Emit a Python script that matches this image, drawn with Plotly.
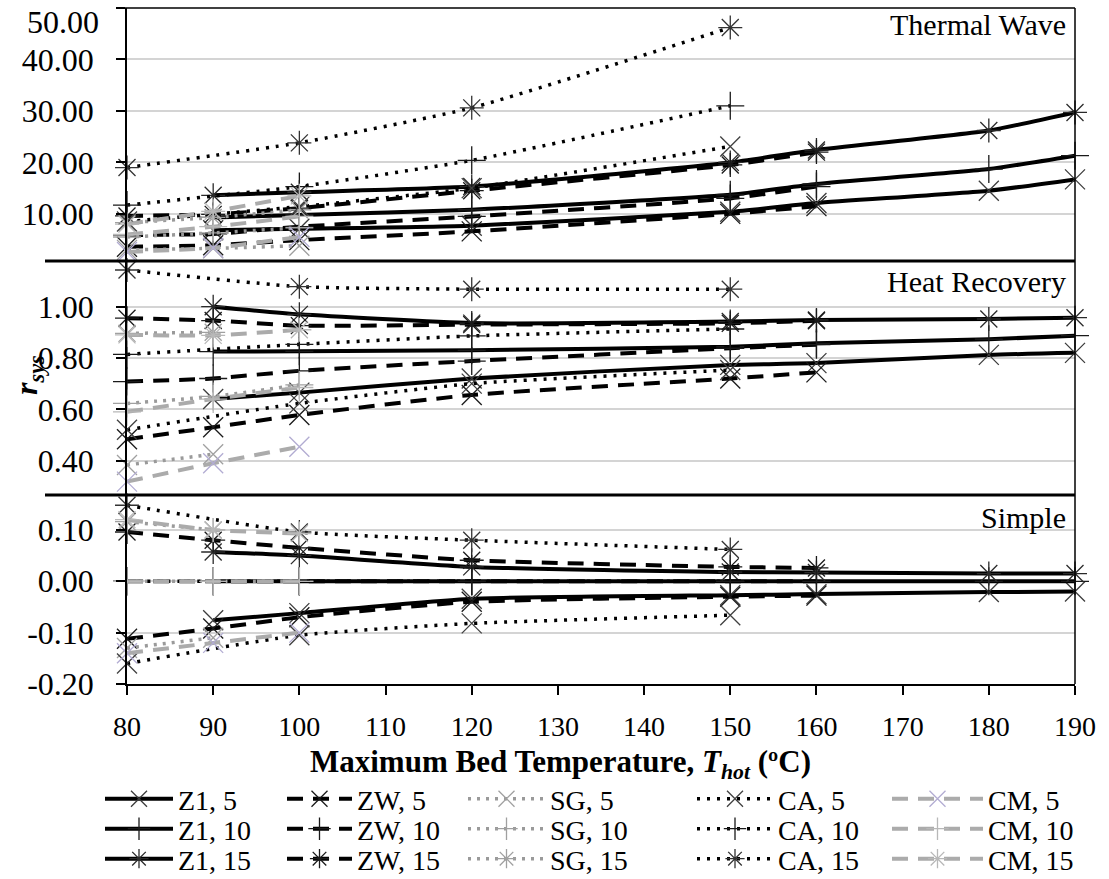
import plotly.graph_objects as go

# ---------------- data ----------------
Z1_x = [90, 100, 120, 150, 160, 180, 190]
ZW_x = [80, 90, 100, 120, 150, 160]
SG_x = [80, 90, 100]
CA_x = [80, 100, 120, 150]
CM_x = [80, 90, 100]

# Thermal Wave panel
Z1_5_tw = [6.8, 7.1, 7.7, 10.4, 12.1, 14.5, 16.7]
Z1_10_tw = [9.3, 9.8, 10.8, 13.7, 15.8, 18.7, 21.3]
Z1_15_tw = [13.6, 14.2, 15.3, 20.0, 22.4, 26.2, 29.7]
ZW_5_tw = [3.6, 3.9, 4.9, 6.6, 10.0, 11.5]
ZW_10_tw = [5.9, 6.1, 7.5, 9.5, 13.0, 15.3]
ZW_15_tw = [9.6, 9.9, 11.1, 14.5, 19.5, 22.0]
SG_5_tw = [3.0, 3.3, 3.8]
SG_10_tw = [5.5, 6.3, 7.3]
SG_15_tw = [8.3, 9.3, 10.8]
CA_5_tw = [8.5, 11.4, 15.0, 23.1]
CA_10_tw = [11.7, 15.3, 20.4, 31.0]
CA_15_tw = [19.0, 23.8, 30.6, 46.2]
CM_5_tw = [2.6, 3.4, 5.5]
CM_10_tw = [6.0, 7.5, 9.5]
CM_15_tw = [8.0, 10.5, 13.5]

# Heat Recovery panel
Z1_5_hr = [0.64, 0.665, 0.72, 0.773, 0.78, 0.812, 0.82]
Z1_10_hr = [0.825, 0.826, 0.83, 0.844, 0.857, 0.873, 0.887]
Z1_15_hr = [1.00, 0.97, 0.936, 0.942, 0.948, 0.952, 0.957]
ZW_5_hr = [0.483, 0.53, 0.578, 0.656, 0.72, 0.744]
ZW_10_hr = [0.708, 0.72, 0.75, 0.788, 0.838, 0.852]
ZW_15_hr = [0.955, 0.946, 0.926, 0.93, 0.935, 0.945]
SG_5_hr = [0.383, 0.425, None]
SG_10_hr = [0.623, 0.65, 0.695]
SG_15_hr = [0.896, 0.90, None]
CA_5_hr = [0.52, 0.623, 0.70, 0.753]
CA_10_hr = [0.814, 0.853, 0.886, 0.913]
CA_15_hr = [1.143, 1.078, 1.068, 1.068]
CM_5_hr = [0.318, 0.39, 0.454]
CM_10_hr = [0.59, 0.64, 0.685]
CM_15_hr = [0.89, 0.888, 0.91]

# Simple panel
Z1_5_s = [-0.076, -0.062, -0.034, -0.027, -0.025, -0.021, -0.02]
Z1_10_s = [0, 0, 0, 0, 0, 0, 0]
Z1_15_s = [0.057, 0.05, 0.028, 0.018, 0.017, 0.015, 0.015]
ZW_5_s = [-0.112, -0.092, -0.07, -0.04, -0.03, -0.028]
ZW_10_s = [0, 0, 0, 0, 0, 0]
ZW_15_s = [0.096, 0.08, 0.065, 0.041, 0.028, 0.026]
SG_5_s = [-0.13, -0.11, None]
SG_10_s = [0, 0, 0]
SG_15_s = [0.116, 0.10, None]
CA_5_s = [-0.16, -0.105, -0.082, -0.066]
CA_10_s = [0, 0, 0, 0]
CA_15_s = [0.148, 0.096, 0.08, 0.062]
CM_5_s = [-0.14, -0.12, -0.10]
CM_10_s = [0, 0, 0]
CM_15_s = [0.12, 0.10, 0.093]

x_ticks = [80, 90, 100, 110, 120, 130, 140, 150, 160, 170, 180, 190]
top_tickvals = [10, 20, 30, 40, 50]
top_ticktext = ["10.00", "20.00", "30.00", "40.00", ""]
top_label_max = "50.00"
mid_tickvals = [0.4, 0.6, 0.8, 1.0]
mid_ticktext = ["0.40", "0.60", "0.80", "1.00"]
bot_tickvals = [-0.2, -0.1, 0.0, 0.1]
bot_ticktext = ["-0.20", "-0.10", "0.00", "0.10"]

panel_names = ["Thermal Wave", "Heat Recovery", "Simple"]
materials = ["Z1", "ZW", "SG", "CA", "CM"]
levels = ["5", "10", "15"]

# --------------- assemble ----------------
xs = {"Z1": Z1_x, "ZW": ZW_x, "SG": SG_x, "CA": CA_x, "CM": CM_x}
panels = {
    "y3": {"Z1": [Z1_5_tw, Z1_10_tw, Z1_15_tw], "ZW": [ZW_5_tw, ZW_10_tw, ZW_15_tw],
           "SG": [SG_5_tw, SG_10_tw, SG_15_tw], "CA": [CA_5_tw, CA_10_tw, CA_15_tw],
           "CM": [CM_5_tw, CM_10_tw, CM_15_tw]},
    "y2": {"Z1": [Z1_5_hr, Z1_10_hr, Z1_15_hr], "ZW": [ZW_5_hr, ZW_10_hr, ZW_15_hr],
           "SG": [SG_5_hr, SG_10_hr, SG_15_hr], "CA": [CA_5_hr, CA_10_hr, CA_15_hr],
           "CM": [CM_5_hr, CM_10_hr, CM_15_hr]},
    "y": {"Z1": [Z1_5_s, Z1_10_s, Z1_15_s], "ZW": [ZW_5_s, ZW_10_s, ZW_15_s],
          "SG": [SG_5_s, SG_10_s, SG_15_s], "CA": [CA_5_s, CA_10_s, CA_15_s],
          "CM": [CM_5_s, CM_10_s, CM_15_s]},
}

line_styles = {
    "Z1": dict(color="black", width=4, dash="solid"),
    "ZW": dict(color="black", width=4, dash="16px,10px"),
    "SG": dict(color="#9a9a9a", width=3.5, dash="3px,6px"),
    "CA": dict(color="black", width=3.5, dash="3px,7px"),
    "CM": dict(color="#ababab", width=4, dash="16px,10px"),
}
marker_symbols = ["x-thin-open", "cross-thin-open", "asterisk-open"]
marker_colors = {
    "Z1": ["#3c3c3c", "#1a1a1a", "#2a2a2a"],
    "ZW": ["#1a1a1a", "#1a1a1a", "#1a1a1a"],
    "SG": ["#a0a0a0", "#a0a0a0", "#a0a0a0"],
    "CA": ["#404040", "#1a1a1a", "#333333"],
    "CM": ["#b2acd2", "#b8b8b8", "#b8b8b8"],
}

# legend placement (pixels): symbol start and end for each column; row centres
leg_sym_start = {"Z1": 105, "ZW": 287, "SG": 468, "CA": 697, "CM": 892}
leg_sym_end = {"Z1": 173, "ZW": 352, "SG": 545, "CA": 773, "CM": 983}
leg_rows = [799, 829, 859]

FONT = "Liberation Serif, Times New Roman, Times, serif"
fig = go.Figure()

legend_layouts = {}
L, R, T, B = 127, 1075, 8, 684
def px_x(p):
    return (p - L) / (R - L)
def px_y(p):
    return (B - p) / (B - T)

n = 0
for m in materials:
    for i, lv in enumerate(levels):
        n += 1
        lid = "legend" if n == 1 else f"legend{n}"
        left = leg_sym_start[m] - 5
        legend_layouts[lid] = dict(
            x=px_x(left), y=px_y(leg_rows[i]), xanchor="left", yanchor="middle",
            orientation="v", bgcolor="rgba(0,0,0,0)", borderwidth=0,
            font=dict(family=FONT, size=28, color="black"),
            tracegroupgap=0, itemwidth=leg_sym_end[m] - leg_sym_start[m],
        )
        for yax in ["y3", "y2", "y"]:
            mc = marker_colors[m][i]
            fig.add_trace(go.Scatter(
                x=xs[m], y=panels[yax][m][i],
                mode="lines+markers",
                name=f"{m}, {lv}",
                line=dict(**line_styles[m], shape="spline", smoothing=0.5),
                marker=dict(symbol=marker_symbols[i], size=20, color=mc,
                            line=dict(color=mc, width=1.3)),
                xaxis="x", yaxis=yax,
                legend=lid,
                legendgroup=f"{m}{lv}",
                showlegend=(yax == "y3"),
                cliponaxis=False,
                hoverinfo="skip",
            ))

sep1 = px_y(261)
sep2 = px_y(495)

axis_common = dict(
    showline=True, linecolor="black", linewidth=1.5, mirror=False,
    ticks="outside", ticklen=9, tickcolor="black", tickwidth=1.5,
    showgrid=True, gridcolor="#d4d4d4", gridwidth=1.5,
    tickfont=dict(family=FONT, size=32, color="black"),
    zeroline=False, fixedrange=True,
)

fig.update_layout(
    width=1109, height=879,
    margin=dict(l=L, r=1109 - R, t=T, b=879 - B, autoexpand=False),
    paper_bgcolor="white", plot_bgcolor="white",
    font=dict(family=FONT, size=28, color="black"),
    xaxis=dict(
        range=[80, 190], tickvals=x_ticks, anchor="y",
        showline=True, linecolor="black", linewidth=1.5,
        ticks="outside", ticklen=9, tickcolor="black", tickwidth=1.5,
        showgrid=False, zeroline=False, fixedrange=True,
        tickfont=dict(family=FONT, size=28, color="black"),
        ticklabelstandoff=8,
    ),
    yaxis=dict(domain=[0, sep2], range=[-0.2, 0.168], tickvals=bot_tickvals,
               ticktext=bot_ticktext, anchor="x", ticklabelstandoff=16, **axis_common),
    yaxis2=dict(domain=[sep2, sep1], range=[0.266, 1.178], tickvals=mid_tickvals,
                ticktext=mid_ticktext, anchor="x", ticklabelstandoff=16, **axis_common),
    yaxis3=dict(domain=[sep1, 1], range=[0.84, 50.0], tickvals=top_tickvals,
                ticktext=top_ticktext, anchor="x", ticklabelstandoff=16, **axis_common),
    showlegend=True,
)
fig.update_layout(legend_layouts)

shapes = [
    dict(type="line", xref="paper", yref="paper", x0=px_x(45), x1=1, y0=sep1, y1=sep1,
         line=dict(color="black", width=3)),
    dict(type="line", xref="paper", yref="paper", x0=px_x(45), x1=1, y0=sep2, y1=sep2,
         line=dict(color="black", width=3)),
    dict(type="line", xref="paper", yref="paper", x0=px_x(118), x1=1, y0=1, y1=1,
         line=dict(color="black", width=1.5)),
    dict(type="line", xref="paper", yref="paper", x0=1, x1=1, y0=0, y1=1,
         line=dict(color="black", width=1.5)),
]
fig.update_layout(shapes=shapes)

annotations = [
    dict(text=panel_names[0], x=px_x(1068), y=px_y(25), xanchor="right", yanchor="middle",
         font=dict(family=FONT, size=30, color="black")),
    dict(text=panel_names[1], x=px_x(1068), y=px_y(281), xanchor="right", yanchor="middle",
         font=dict(family=FONT, size=30, color="black")),
    dict(text=panel_names[2], x=px_x(1068), y=px_y(517), xanchor="right", yanchor="middle",
         font=dict(family=FONT, size=30, color="black")),
    dict(text=top_label_max, x=px_x(101), y=px_y(22), xanchor="right", yanchor="middle",
         font=dict(family=FONT, size=32, color="black")),
    dict(text="<b>Maximum Bed Temperature, <i>T<sub>hot</sub></i> (\u00baC)</b>",
         x=px_x(560), y=px_y(764), xanchor="center", yanchor="middle",
         font=dict(family=FONT, size=31, color="black")),
    dict(text="<b><i>r<sub>sys</sub></i></b>", x=px_x(28), y=px_y(375), textangle=-90,
         xanchor="center", yanchor="middle",
         font=dict(family=FONT, size=32, color="black")),
]
for a in annotations:
    a.update(xref="paper", yref="paper", showarrow=False)
fig.update_layout(annotations=annotations)

fig.write_html("out.html", config={"displayModeBar": False},
               post_script="document.body.style.margin='0px';")
